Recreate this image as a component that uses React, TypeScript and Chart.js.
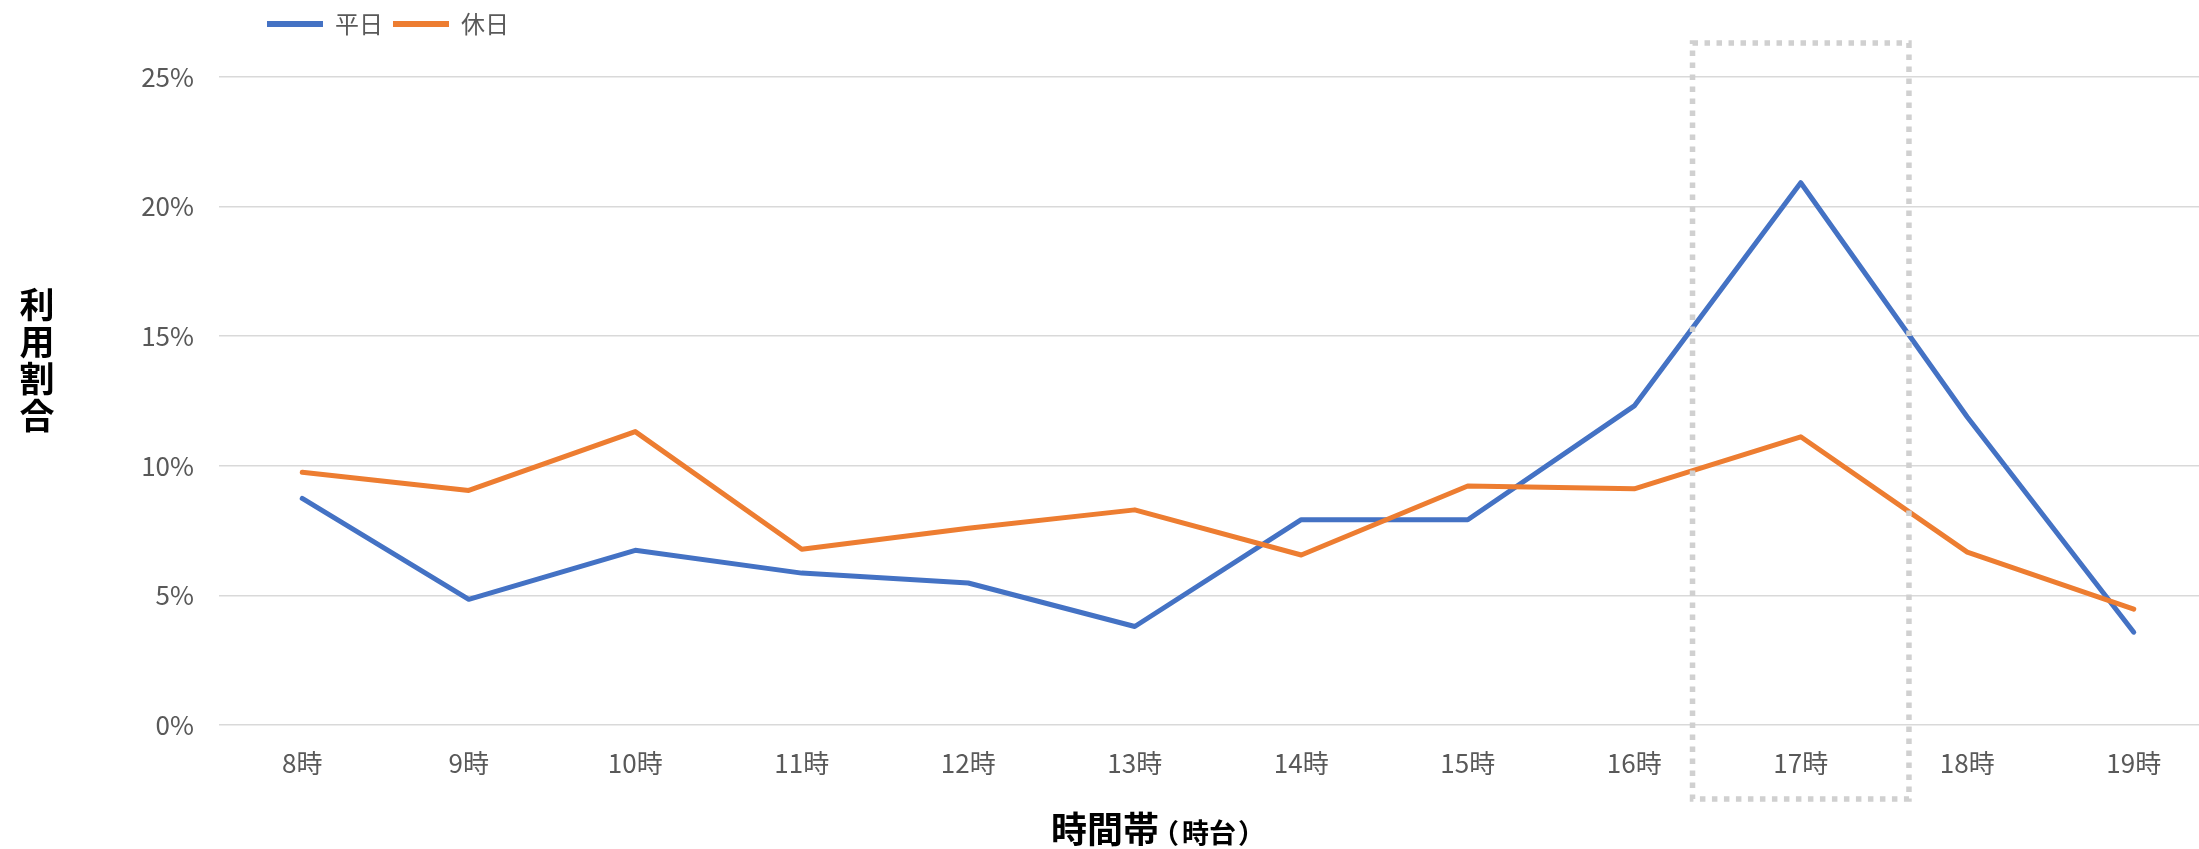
import React, { useEffect, useRef } from 'react';
import { Chart, registerables } from 'chart.js';

Chart.register(...registerables);

// ---- data ----
const categories = ['8時', '9時', '10時', '11時', '12時', '13時', '14時', '15時', '16時', '17時', '18時', '19時'];
const weekdayValues = [8.74, 4.85, 6.74, 5.86, 5.48, 3.8, 7.92, 7.92, 12.31, 20.92, 11.88, 3.58];
const holidayValues = [9.75, 9.05, 11.32, 6.78, 7.59, 8.3, 6.56, 9.22, 9.11, 11.12, 6.67, 4.47];
const seriesNames = ['平日', '休日'];
const yTickValues = [0, 5, 10, 15, 20, 25];
const yTitleChars = ['利', '用', '割', '合'];
const xTitleMain = '時間帯';
const xTitleSub = '（時台）';
const highlightCategory = '17時';

const FONT = '"Noto Sans CJK JP", "Noto Sans", sans-serif';
const BLUE = '#4472C4';
const ORANGE = '#ED7D31';
const TICK_COLOR = '#595959';

const legendShift = {
  id: 'legendShift',
  afterLayout(chart: any) {
    const lg = chart.legend;
    if (!lg) return;
    const w = lg.right - lg.left;
    lg.left = 257;
    lg.right = 257 + w;
    lg.top = 2;
    lg.bottom = 60;
  },
};

const decorations = {
  id: 'decorations',
  afterDraw(chart: any) {
    const { ctx, chartArea, scales } = chart;
    const x = scales.x;
    // highlight box around the peak category
    const idx = categories.indexOf(highlightCategory);
    const cx = x.getPixelForValue(idx);
    const step = x.getPixelForValue(1) - x.getPixelForValue(0);
    const l = cx - step * 0.65;
    const r = cx + step * 0.65;
    const t = chartArea.top - 34;
    const b = chartArea.bottom + 74;
    ctx.save();
    ctx.strokeStyle = '#d0d0d0';
    ctx.lineWidth = 5.5;
    ctx.lineCap = 'butt';
    ctx.setLineDash([5.5, 6.5]);
    ctx.strokeRect(l, t, r - l, b - t);
    ctx.restore();

    // y-axis title (vertical stacked)
    ctx.save();
    ctx.fillStyle = '#000';
    ctx.font = `bold 35px ${FONT}`;
    ctx.textAlign = 'center';
    ctx.textBaseline = 'middle';
    yTitleChars.forEach((ch, i) => {
      ctx.fillText(ch, 37, 305 + i * 37);
    });
    ctx.restore();

    // x-axis title
    ctx.save();
    ctx.fillStyle = '#000';
    ctx.textAlign = 'left';
    ctx.textBaseline = 'alphabetic';
    ctx.font = `bold 36px ${FONT}`;
    const startX = 1051;
    ctx.fillText(xTitleMain, startX, 843);
    const w = ctx.measureText(xTitleMain).width;
    ctx.font = `bold 27px ${FONT}`;
    const subChars = Array.from(xTitleSub);
    const gaps = [30, 27, 29, 0];
    let cursor = startX + w - 7;
    subChars.forEach((ch, i) => {
      ctx.fillText(ch, cursor, 843);
      cursor += gaps[i];
    });
    ctx.restore();
  },
};

export default function App() {
  const canvasRef = useRef<HTMLCanvasElement | null>(null);

  useEffect(() => {
    if (!canvasRef.current) return;
    const chart = new Chart(canvasRef.current, {
      type: 'line',
      data: {
        labels: categories,
        datasets: [
          {
            label: seriesNames[0],
            data: weekdayValues,
            borderColor: BLUE,
            backgroundColor: BLUE,
            borderWidth: 5,
            pointRadius: 0,
            tension: 0,
            fill: false,
            borderCapStyle: 'round',
            borderJoinStyle: 'round',
            order: 1,
          },
          {
            label: seriesNames[1],
            data: holidayValues,
            borderColor: ORANGE,
            backgroundColor: ORANGE,
            borderWidth: 5,
            pointRadius: 0,
            tension: 0,
            fill: false,
            borderCapStyle: 'round',
            borderJoinStyle: 'round',
            order: 0,
          },
        ],
      },
      options: {
        animation: false,
        responsive: false,
        maintainAspectRatio: false,
        layout: { padding: { top: 76, left: 0, right: 3, bottom: 0 } },
        plugins: {
          legend: {
            display: true,
            position: 'top',
            align: 'start',
            maxHeight: 1,
            labels: {
              usePointStyle: true,
              pointStyle: 'line',
              pointStyleWidth: 56,
              padding: 10,
              color: TICK_COLOR,
              font: { family: FONT, size: 24 },
              sort: (a: any, b: any) => a.datasetIndex - b.datasetIndex,
              generateLabels: (chart: any) => {
                const items = Chart.defaults.plugins.legend.labels.generateLabels(chart);
                return items.map((it: any) => ({ ...it, lineWidth: 6 }));
              },
            },
          },
          tooltip: { enabled: false },
          title: { display: false },
        },
        scales: {
          x: {
            type: 'category',
            offset: true,
            grid: { display: false, drawTicks: false },
            border: { display: false },
            ticks: {
              color: TICK_COLOR,
              font: { family: FONT, size: 26 },
              padding: 23,
              maxRotation: 0,
              autoSkip: false,
            },
            afterFit: (scale: any) => {
              scale.height = 124;
            },
          },
          y: {
            type: 'linear',
            min: 0,
            max: 25,
            grid: { color: '#d9d9d9', lineWidth: 1.5, drawTicks: false },
            border: { display: false },
            afterBuildTicks: (scale: any) => {
              scale.ticks = yTickValues.map((v) => ({ value: v }));
            },
            ticks: {
              color: TICK_COLOR,
              font: { family: FONT, size: 26 },
              padding: 25,
              callback: (v: any) => `${v}%`,
            },
            afterFit: (scale: any) => {
              scale.width = 219;
            },
          },
        },
      },
      plugins: [legendShift, decorations],
    });
    return () => chart.destroy();
  }, []);

  return (
    <div
      style={{
        position: 'fixed',
        left: 0,
        top: 0,
        width: 2199,
        height: 849,
        overflow: 'hidden',
        background: '#fff',
      }}
    >
      <canvas ref={canvasRef} width={2220} height={849} style={{ width: 2220, height: 849, display: 'block' }} />
    </div>
  );
}
